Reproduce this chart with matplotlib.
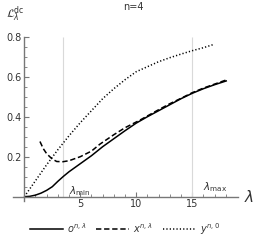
import numpy as np
import matplotlib.pyplot as plt
from matplotlib.lines import Line2D

# values
lam_o = [0, 0.5, 1, 1.5, 2, 2.5, 3, 3.5, 4, 5, 6, 7, 8, 9, 10, 11, 12, 13, 14, 15, 16, 17, 18.1]
o_vals = [0, 0.002, 0.008, 0.018, 0.032, 0.05, 0.077, 0.102, 0.125, 0.165, 0.205, 0.25,
          0.29, 0.33, 0.368, 0.40, 0.43, 0.46, 0.49, 0.517, 0.54, 0.56, 0.58]

lam_x = [1.4, 1.7, 2.0, 2.5, 2.9, 3.45, 4, 5, 6, 6.76, 8, 9, 10.33, 12, 13, 14, 15, 16, 17, 18.1]
x_vals = [0.276, 0.24, 0.215, 0.188, 0.176, 0.175, 0.18, 0.2, 0.228, 0.263, 0.31, 0.345,
          0.383, 0.435, 0.465, 0.492, 0.52, 0.543, 0.563, 0.585]

lam_y = [0, 1, 2, 3, 4, 5, 6, 7, 8, 9, 10, 11, 12, 13, 14, 15, 16, 16.85]
y_vals = [0, 0.08, 0.16, 0.235, 0.305, 0.37, 0.43, 0.49, 0.54, 0.585, 0.625, 0.65,
          0.675, 0.695, 0.713, 0.73, 0.745, 0.76]

lam_min = 3.45
lam_max = 15

axis_gray = '#777777'
text_gray = '#333333'

fig = plt.figure(figsize=(2.66, 2.43), dpi=100)
ax = fig.add_axes([0.0492, 0.174, 0.846, 0.675])

ax.vlines([lam_min, lam_max], 0, 0.8, color='#d9d9d9', lw=0.8)

ax.plot(lam_o, o_vals, color='black', lw=1.1, solid_capstyle='butt')
ax.plot(lam_x, x_vals, color='black', lw=1.1, dashes=(3.5, 1.8))
ax.plot(lam_y, y_vals, color='black', lw=1.1, dashes=(0.8, 1.4))

ax.set_xlim(-1, 19.1)
ax.set_ylim(-0.02, 0.8)

for s in ['top', 'right']:
    ax.spines[s].set_visible(False)
ax.spines['left'].set_position(('data', 0))
ax.spines['bottom'].set_position(('data', 0))
ax.spines['left'].set_color(axis_gray)
ax.spines['bottom'].set_color(axis_gray)
ax.spines['left'].set_linewidth(1.0)
ax.spines['bottom'].set_linewidth(1.0)

ax.set_xticks([5, 10, 15])
ax.set_xticks(np.arange(1, 19), minor=True)
ax.set_yticks([0.2, 0.4, 0.6, 0.8])
ax.set_yticks(np.arange(0.05, 0.81, 0.05), minor=True)
ax.set_yticklabels(['0.2', '0.4', '0.6', '0.8'])
ax.tick_params(axis='both', which='major', direction='in', length=3.5, width=0.8,
               color=axis_gray, labelsize=7, labelcolor=text_gray, pad=2)
ax.tick_params(axis='both', which='minor', direction='in', length=2, width=0.6,
               color=axis_gray)

ax.text(lam_min + 0.55, 0.03, r'$\lambda_{\rm min}$', fontsize=7.5, color=text_gray,
        va='center', ha='left')
ax.text(lam_max + 1.0, 0.05, r'$\lambda_{\rm max}$', fontsize=7.5, color=text_gray,
        va='center', ha='left')

fig.text(0.935, 0.19, r'$\lambda$', fontsize=11, color=text_gray, ha='center', va='center')
fig.text(0.058, 0.94, r'$\mathcal{L}_\lambda^{\rm dc}$', fontsize=8, color=text_gray,
         ha='center', va='center')
fig.text(0.5, 0.972, 'n=4', fontsize=7, color=text_gray, ha='center', va='center')

handles = [Line2D([], [], color='black', lw=1.1),
           Line2D([], [], color='black', lw=1.1, dashes=(3.5, 1.8)),
           Line2D([], [], color='black', lw=1.1, dashes=(0.8, 1.4))]
labels = [r'$o^{n,\lambda}$', r'$x^{n,\lambda}$', r'$y^{n,0}$']
leg = fig.legend(handles, labels, loc='center', bbox_to_anchor=(0.47, 0.058), ncol=3,
                 frameon=False, fontsize=7, handlelength=3.4, handletextpad=0.4,
                 columnspacing=1.0, labelcolor=text_gray)

fig.savefig('out.png', dpi=100)
